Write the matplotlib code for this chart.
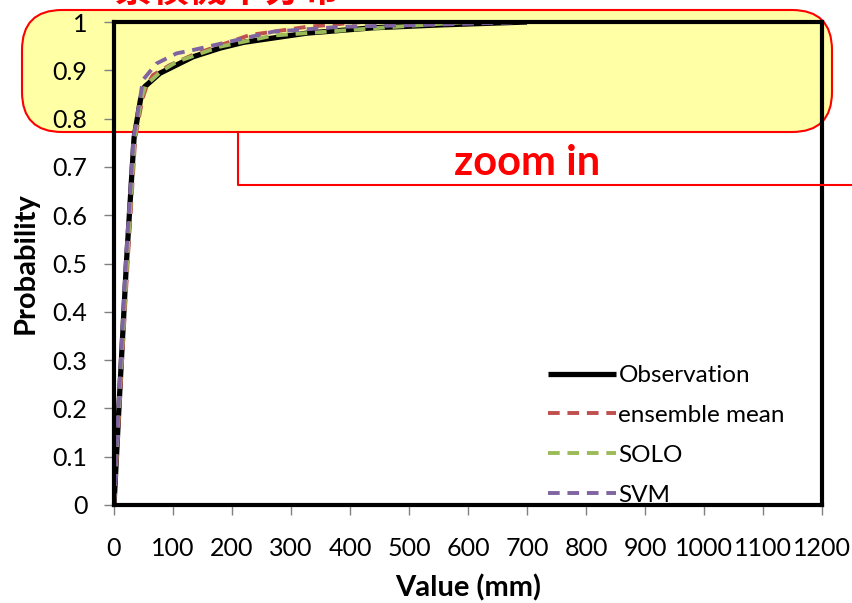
import matplotlib
matplotlib.use("Agg")
import matplotlib.pyplot as plt
from matplotlib.patches import FancyBboxPatch
from matplotlib.lines import Line2D

# CDF values (x in mm, y = cumulative probability)
obs_x = [0, 10, 21, 34, 45, 52, 78, 134, 180, 220, 327, 439, 553, 700]
obs_y = [0, 0.24, 0.50, 0.76, 0.84, 0.866, 0.894, 0.928, 0.946, 0.958, 0.977, 0.988, 0.994, 1.0]

ens_x = [0, 11, 23, 36, 48, 56, 66, 95, 134, 180, 230, 327, 366, 420]
ens_y = [0, 0.24, 0.50, 0.76, 0.84, 0.87, 0.89, 0.911, 0.932, 0.952, 0.973, 0.99, 0.994, 1.0]

solo_x = [0, 10, 22, 35, 46, 53, 80, 107, 180, 270, 439, 600]
solo_y = [0, 0.24, 0.50, 0.76, 0.84, 0.868, 0.898, 0.918, 0.949, 0.972, 0.987, 1.0]

svm_x = [0, 9, 20, 33, 44, 49, 72, 106, 134, 270, 383, 524, 700]
svm_y = [0, 0.24, 0.50, 0.76, 0.84, 0.88, 0.914, 0.935, 0.942, 0.98, 0.99, 0.994, 1.0]

x_ticks = list(range(0, 1201, 100))
y_ticks = [i / 10 for i in range(11)]
y_tick_labels = ["0", "0.1", "0.2", "0.3", "0.4", "0.5", "0.6", "0.7", "0.8", "0.9", "1"]

plt.rcParams["font.family"] = ["Lato", "DejaVu Sans"]

fig = plt.figure(figsize=(8.52, 6.03), dpi=100)
ax = fig.add_axes([114 / 852, 98 / 603, 708 / 852, 483 / 603])
ax.set_facecolor("none")

# yellow highlight box behind the axes (inch coordinates)
box = FancyBboxPatch((0.22, 4.71), 8.10, 1.22,
                     boxstyle="round,pad=0,rounding_size=0.4",
                     transform=fig.dpi_scale_trans, facecolor="#ffffa6",
                     edgecolor="#ff0000", linewidth=1.5, zorder=-2)
fig.patches.append(box)

# callout line and labels
fig.lines.append(Line2D([2.38, 2.38, 8.52], [4.71, 4.18, 4.18],
                        transform=fig.dpi_scale_trans, color="#ff0000", lw=1.5))
fig.text(5.27 / 8.52, (6.03 - 1.63) / 6.03, "zoom in", color="#ff0000",
         fontsize=30, fontweight="bold", ha="center", va="center")
fig.text(1.15 / 8.52, 1.0 + 0.10 / 6.03, "累積機率分布", color="#ff0000",
         fontsize=27, fontweight="bold", ha="left", va="center",
         family=["Noto Sans CJK TC", "DejaVu Sans"])

ax.plot(obs_x, obs_y, color="black", lw=3.8, label="Observation",
        solid_capstyle="butt")
ax.plot(ens_x, ens_y, color="#c0504d", lw=2.8, ls=(0, (3, 2)),
        label="ensemble mean")
ax.plot(solo_x, solo_y, color="#9bbb59", lw=2.8, ls=(0, (3, 2)), label="SOLO")
ax.plot(svm_x, svm_y, color="#8064a2", lw=2.8, ls=(0, (3, 2)), label="SVM")

ax.set_xlim(0, 1200)
ax.set_ylim(0, 1)
ax.set_xticks(x_ticks)
ax.set_xticklabels([str(v) for v in x_ticks])
ax.set_yticks(y_ticks)
ax.set_yticklabels(y_tick_labels)
ax.tick_params(axis="both", direction="out", length=7, width=1,
               color="#808080", labelsize=18, labelcolor="black")
ax.tick_params(axis="x", pad=16)
ax.tick_params(axis="y", pad=12)
for sp in ax.spines.values():
    sp.set_linewidth(3)
    sp.set_color("black")

ax.set_xlabel("Value (mm)", fontsize=21, fontweight="bold", labelpad=10)
ax.set_ylabel("Probability", fontsize=21, fontweight="bold", labelpad=10)

leg = ax.legend(loc="upper left", bbox_to_anchor=(548 / 852, (603 - 365) / 603),
                bbox_transform=fig.transFigure, frameon=False, fontsize=17.5,
                handlelength=2.8, handletextpad=0.1, labelspacing=0.78,
                borderpad=0, borderaxespad=0)

fig.savefig("out.png", dpi=100)
